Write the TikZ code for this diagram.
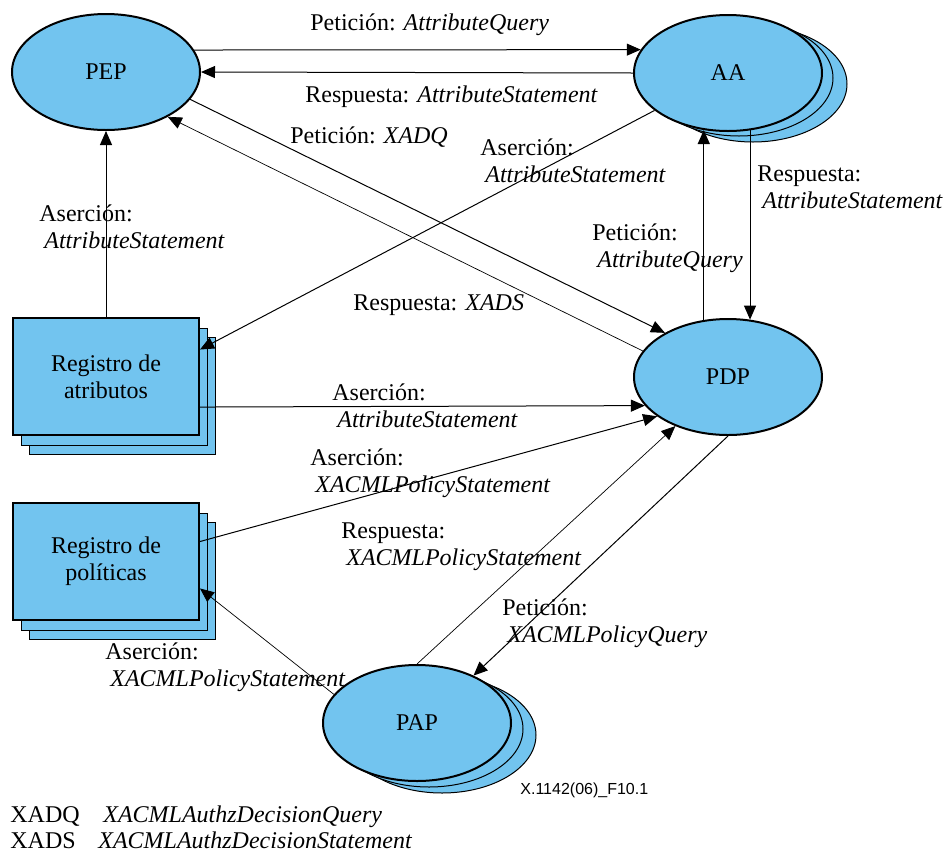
\documentclass[tikz,border=0pt]{standalone}
\usepackage{fontspec}
\setmainfont{Liberation Serif}
\newfontfamily\figsans{Liberation Sans}
\usetikzlibrary{shapes.geometric, arrows.meta}
\definecolor{entblue}{RGB}{114,196,239}

\begin{document}
\begin{tikzpicture}[x=0.5pt, y=-0.5pt, font=\fontsize{12}{13.5}\selectfont]
	\tikzset{arrow/.style={-{Triangle[length=7pt,width=6pt]}, line width=0.5pt}}
	\tikzset{arrowthin/.style={arrow, line width=0.35pt}}
	\tikzset{ent/.style={draw, ellipse, fill=entblue, line width=1pt, minimum width=94pt, minimum height=58pt, inner sep=0pt}}
	\tikzset{entback/.style={ent, line width=0.5pt}}
	\tikzset{reg/.style={draw, rectangle, fill=entblue, line width=1pt, minimum width=93pt, minimum height=58.5pt, align=center}}
	\tikzset{regback/.style={reg, line width=0.5pt}}
	\tikzset{lbl/.style={anchor=base west, align=left, inner sep=0pt}}

	\useasboundingbox (0,0) rectangle (943,852);

	% entities
	\node (pep) [ent] at (106,72) {PEP};
	\foreach \dx/\dy [count=\i] in {25/11, 11/5}
	{ \node (aa\i) [entback] at (728+\dx,73+\dy) {}; }
	\node (aa) [ent] at (728,73) {AA};
	\node (pdp) [ent] at (728,377) {PDP};
	\foreach \dx/\dy [count=\i] in {25/12, 12/6}
	{ \node (pap\i) [entback] at (417+\dx,723+\dy) {}; }
	\node (pap) [ent] at (417,723) {PAP};

	% registers
	\foreach \dx/\dy [count=\i] in {16/19, 8/10}
	{ \node (rega\i) [regback] at (106+\dx,376.5+\dy) {};
	  \node (regp\i) [regback] at (106+\dx,561.5+\dy) {}; }
	\node (rega) [reg] at (106,376.5) {Registro de\\atributos};
	\node (regp) [reg] at (106,561.5) {Registro de\\políticas};

	% messages
	\draw[arrow] (pep.14) -- (aa.165);
	\draw[arrow] (aa.west) -- (pep.east);
	\draw[arrow] (pep.-18) -- (pdp.145);
	\draw[arrowthin] (pdp.163) -- (pep.-36);
	\draw[arrow] (rega.north) -- (pep.south);
	\draw[arrow] (aa.207) -- (rega.16);
	\draw[arrow] (rega.-18) -- (pdp.199);
	\draw[arrow] (regp.12) -- (pdp.209);
	\draw[arrowthin] (pap.north) -- (pdp.223);
	\draw[arrow] (pdp.south) -- (pap.40);
	\draw[arrowthin] (pap.161) -- (regp.-16);
	\draw[arrow, line width=0.7pt] (pdp.113) -- (aa.247);
	\draw[arrow] (aa.291) -- (pdp.69);

	% labels (two-line ones sit on the baseline of their second line)
	\node (lq) [lbl] at (310,30) {Petición: \textit{AttributeQuery}};
	\node (ls) [lbl] at (305,102) {Respuesta: \textit{AttributeStatement}};
	\node (lxadq) [lbl] at (290,143) {Petición: \textit{XADQ}};
	\node (lxads) [lbl] at (353,310) {Respuesta: \textit{XADS}};
	\node (laareg) [lbl] at (480,182) {Aserción:\\\hspace*{2.5pt}\textit{AttributeStatement}};
	\node (lregpep) [lbl] at (39,248) {Aserción:\\\hspace*{2.5pt}\textit{AttributeStatement}};
	\node (laaq) [lbl] at (592,267) {Petición:\\\hspace*{2.5pt}\textit{AttributeQuery}};
	\node (laas) [lbl] at (757,208) {Respuesta:\\\hspace*{2.5pt}\textit{AttributeStatement}};
	\node (lregpdp) [lbl] at (332,427) {Aserción:\\\hspace*{2.5pt}\textit{AttributeStatement}};
	\node (lpolpdp) [lbl] at (310,492) {Aserción:\\\hspace*{2.5pt}\textit{XACMLPolicyStatement}};
	\node (lpappdp) [lbl] at (341,565) {Respuesta:\\\hspace*{2.5pt}\textit{XACMLPolicyStatement}};
	\node (lpdppap) [lbl] at (502,642) {Petición:\\\hspace*{2.5pt}\textit{XACMLPolicyQuery}};
	\node (lpappol) [lbl] at (105,686) {Aserción:\\\hspace*{2.5pt}\textit{XACMLPolicyStatement}};

	% key
	\node (figid) [lbl, font=\figsans\fontsize{8}{9}\selectfont] at (520,794) {X.1142(06)\_F10.1};
	\node (keyq) [lbl] at (10,822) {XADQ};
	\node (keyqx) [lbl] at (103,822) {\textit{XACMLAuthzDecisionQuery}};
	\node (keys) [lbl] at (10,848) {XADS};
	\node (keysx) [lbl] at (98,848) {\textit{XACMLAuthzDecisionStatement}};
\end{tikzpicture}
\end{document}
